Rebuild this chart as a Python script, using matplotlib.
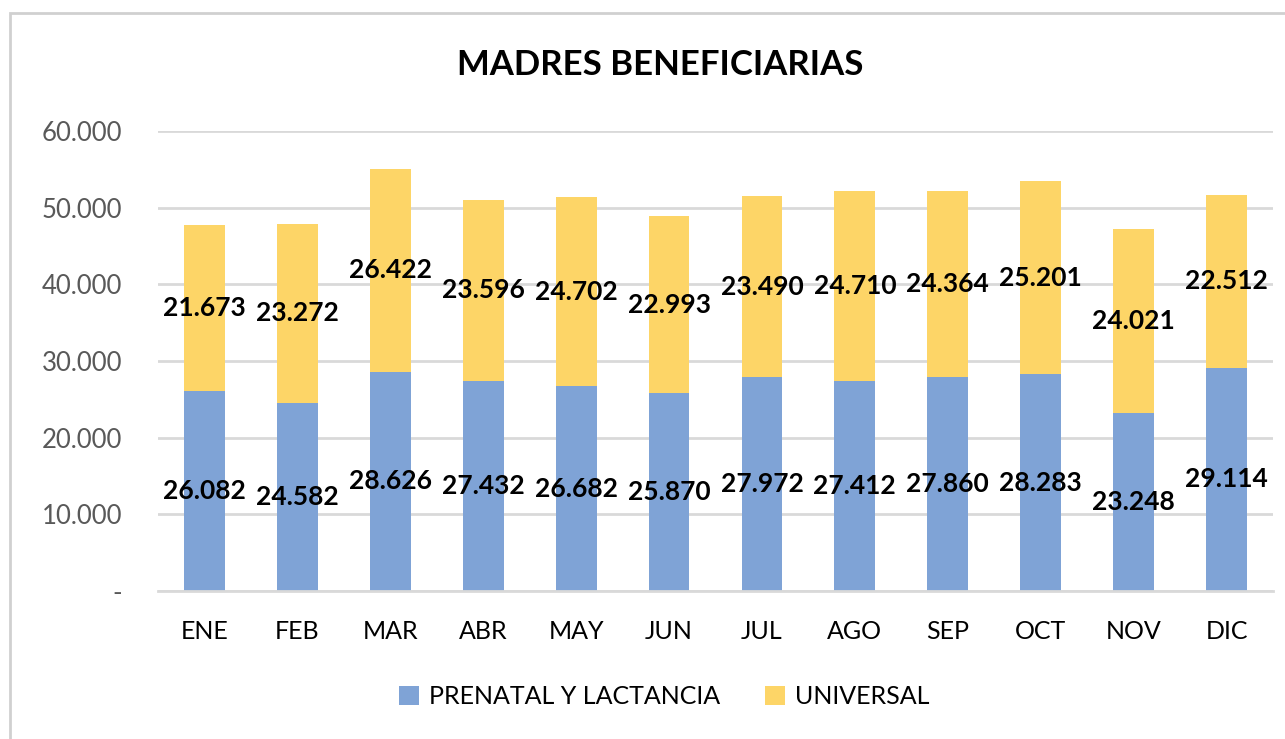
import numpy as np
import matplotlib.pyplot as plt
from matplotlib.patches import Rectangle
from matplotlib.ticker import FuncFormatter

# datos mensuales
meses = ["ENE", "FEB", "MAR", "ABR", "MAY", "JUN", "JUL", "AGO", "SEP", "OCT", "NOV", "DIC"]
prenatal = [26082, 24582, 28626, 27432, 26682, 25870, 27972, 27412, 27860, 28283, 23248, 29114]
universal = [21673, 23272, 26422, 23596, 24702, 22993, 23490, 24710, 24364, 25201, 24021, 22512]

def miles(v, pos=None):
    # formato con punto de miles, cero como guion
    if v == 0:
        return "-"
    return f"{int(round(v)):,}".replace(",", ".")

plt.rcParams['font.family'] = ['Lato', 'DejaVu Sans']

fig = plt.figure(figsize=(12.85, 7.39), dpi=100)
ax = fig.add_axes([158 / 1285, 1 - 591 / 739, (1273 - 158) / 1285, (591 - 131) / 739])

# marco del grafico
fig.patches.append(Rectangle((10 / 1285, -0.1), 1.2, 1 - 13 / 739 + 0.1, transform=fig.transFigure,
                             fill=False, edgecolor="#D0D0D0", linewidth=2))

x = np.arange(len(meses))
azul = "#7FA3D6"
amarillo = "#FDD567"
b1 = ax.bar(x, prenatal, width=0.44, color=azul, label="PRENATAL Y LACTANCIA", zorder=3)
b2 = ax.bar(x, universal, width=0.44, bottom=prenatal, color=amarillo, label="UNIVERSAL", zorder=3)

ax.bar_label(b1, labels=[miles(v) for v in prenatal], label_type="center",
             fontsize=19, fontweight="bold", color="black", zorder=4)
ax.bar_label(b2, labels=[miles(v) for v in universal], label_type="center",
             fontsize=19, fontweight="bold", color="black", zorder=4)

ax.set_xlim(-0.5, len(meses) - 0.5)
ax.set_ylim(0, 60000)
ax.set_yticks(np.arange(0, 60001, 10000))
ax.yaxis.set_major_formatter(FuncFormatter(miles))
ax.set_xticks(x)
ax.set_xticklabels(meses)

ax.grid(axis="y", color="#D9D9D9", linewidth=2, zorder=0)
for s in ["top", "right", "left"]:
    ax.spines[s].set_visible(False)
ax.spines["bottom"].set_color("#D9D9D9")
ax.spines["bottom"].set_linewidth(2)
ax.spines["bottom"].set_zorder(3)
ax.tick_params(axis="y", length=0, pad=26, labelsize=18.5, labelcolor="#595959")
ax.tick_params(axis="x", length=0, pad=21, labelsize=18, labelcolor="black")

fig.text(660 / 1285, 1 - 65 / 739, "MADRES BENEFICIARIAS", ha="center", va="center",
         fontsize=25, fontweight="bold", color="black")

fig.legend(loc="center", bbox_to_anchor=(664 / 1285, 1 - 697 / 739), ncol=2, frameon=False,
           fontsize=18, handlelength=0.8, handleheight=0.8, handletextpad=0.4, columnspacing=1.8)

fig.savefig("out.png", dpi=100)
